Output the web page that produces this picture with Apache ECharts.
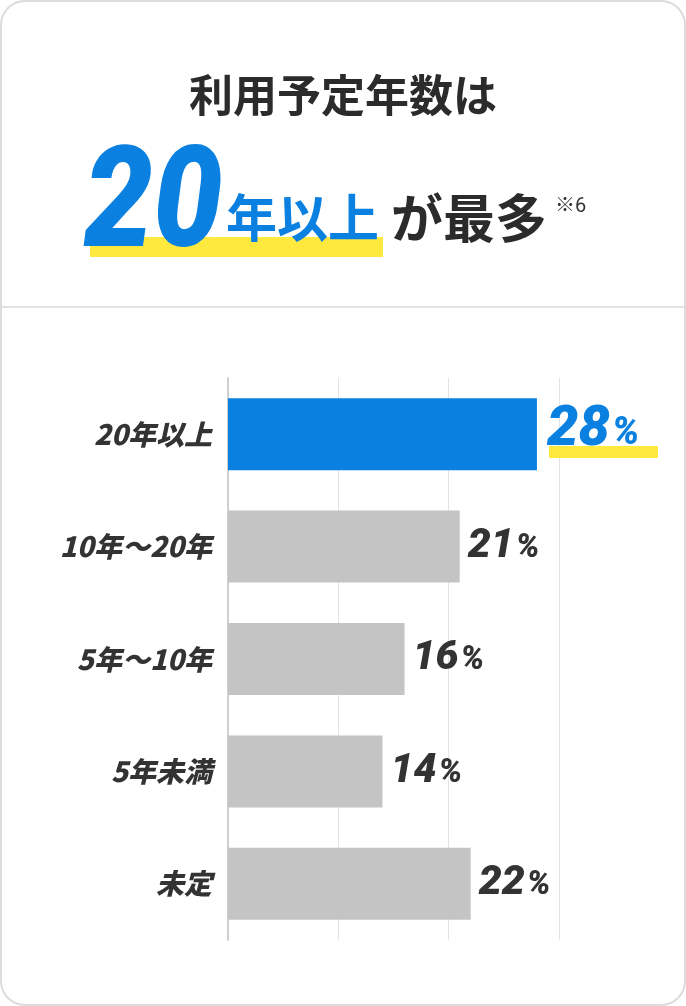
<!DOCTYPE html>
<html><head><meta charset="utf-8">
<script src="https://cdn.jsdelivr.net/npm/echarts@6/dist/echarts.min.js"></script>
<style>html,body{margin:0;background:#fff}#c{width:686px;height:1006px}</style>
</head><body><div id="c"></div>
<script>
var categories = ['20年以上', '10年～20年', '5年～10年', '5年未満', '未定'];
var values = [28, 21, 16, 14, 22];
var jp = '"Noto Sans CJK JP", sans-serif';
var num = 'Roboto, "Noto Sans CJK JP", sans-serif';

function richFor(color, big, small) {
	return {
		n: { fontSize: big, fontWeight: 900, fontStyle: 'italic', color: color, fontFamily: num },
		p: { fontSize: small, fontWeight: 900, fontStyle: 'italic', color: color, fontFamily: num, padding: [Math.round(big * 0.1), 0, 0, 2] }
	};
}

var chart = echarts.init(document.getElementById('c'));
chart.setOption({
	animation: false,
	grid: { left: 228, top: 378, width: 331, height: 562 },
	xAxis: {
		type: 'value', min: 0, max: 30, interval: 10,
		axisLabel: { show: false },
		splitLine: { lineStyle: { color: '#e4e4e4', width: 1 } }
	},
	yAxis: {
		type: 'category', inverse: true, data: categories,
		axisTick: { show: false },
		axisLine: { lineStyle: { color: '#cfcfcf', width: 2 } },
		axisLabel: {
			margin: 16, color: '#333', fontSize: 28, fontWeight: 900,
			fontStyle: 'italic', fontFamily: jp
		}
	},
	series: [{
		type: 'bar', barWidth: 72,
		data: values.map(function (v, i) {
			return {
				value: v,
				itemStyle: { color: i === 0 ? '#0a80e0' : '#c4c4c4' },
				label: i === 0 ? { rich: richFor('#0a80e0', 56, 38), offset: [2, -3] } : {}
			};
		}),
		label: {
			show: true, position: 'right', distance: 8,
			formatter: function (p) { return '{n|' + p.value + '}{p|%}'; },
			rich: richFor('#333', 41, 33)
		},
		z: 3
	}],
	graphic: [
		{ type: 'rect', shape: { x: 1, y: 1, width: 684, height: 1004, r: 24 }, style: { fill: 'none', stroke: '#dcdcdc', lineWidth: 2 }, z: 100 },
		{ type: 'text', x: 343, y: 95, style: { text: '利用予定年数は', font: 'bold 44px ' + jp, fill: '#2b2b2b', align: 'center', verticalAlign: 'middle' } },
		{ type: 'rect', shape: { x: 90, y: 237, width: 293, height: 20 }, style: { fill: '#ffe93f' } },
		{ type: 'text', x: 84, y: 281, scaleX: 0.88, style: { text: '20', font: 'italic 900 140px ' + num, fill: '#0a80e0', verticalAlign: 'bottom' }, z: 2 },
		{ type: 'text', x: 226, y: 218, style: { text: '年以上', font: 'bold 51px ' + jp, fill: '#0a80e0', verticalAlign: 'middle' }, z: 2 },
		{ type: 'text', x: 391, y: 218, style: { text: 'が最多', font: 'bold 52px ' + jp, fill: '#2b2b2b', verticalAlign: 'middle' } },
		{ type: 'text', x: 555, y: 207, style: { text: '※6', font: '20px ' + num, fill: '#333', verticalAlign: 'middle' } },
		{ type: 'rect', shape: { x: 0, y: 306, width: 686, height: 2 }, style: { fill: '#e2e2e2' } },
		{ type: 'rect', shape: { x: 549, y: 446, width: 109, height: 12 }, style: { fill: '#ffe93f' }, z: 1 }
	]
});
</script></body></html>
